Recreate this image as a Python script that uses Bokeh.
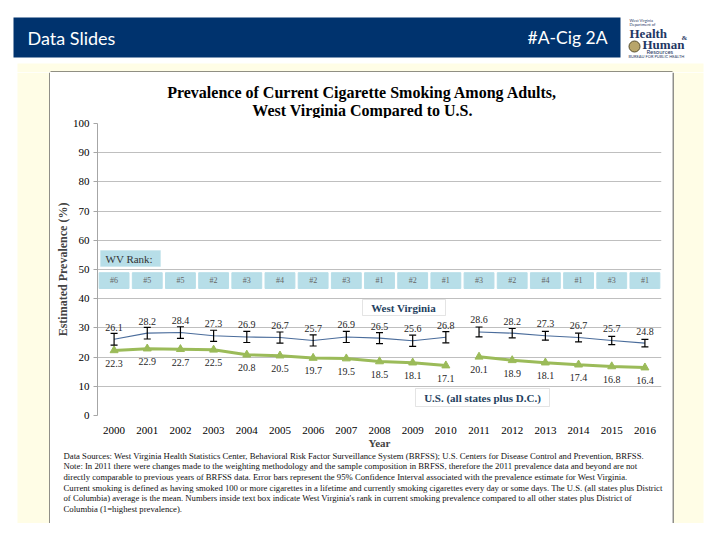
from bokeh.plotting import figure
from bokeh.layouts import column, row
from bokeh.models import FactorRange, Range1d, BoxAnnotation, Label, ColumnDataSource, FixedTicker
from bokeh.core.properties import value
from bokeh.embed import file_html
from bokeh.resources import INLINE

# ---------------- data ----------------
years = [str(y) for y in range(2000, 2017)]
wv_prev = [26.1, 28.2, 28.4, 27.3, 26.9, 26.7, 25.7, 26.9, 26.5, 25.6, 26.8,
           28.6, 28.2, 27.3, 26.7, 25.7, 24.8]
us_prev = [22.3, 22.9, 22.7, 22.5, 20.8, 20.5, 19.7, 19.5, 18.5, 18.1, 17.1,
           20.1, 18.9, 18.1, 17.4, 16.8, 16.4]
wv_ci_half = [2.0, 2.0, 2.0, 1.9, 1.9, 1.9, 1.9, 1.9, 1.9, 1.9, 1.9,
              1.7, 1.6, 1.5, 1.5, 1.4, 1.3]
wv_rank = ["#6", "#5", "#5", "#2", "#3", "#4", "#2", "#3", "#1", "#2", "#1",
           "#3", "#2", "#4", "#1", "#3", "#1"]
y_ticks = [0, 10, 20, 30, 40, 50, 60, 70, 80, 90, 100]

title_lines = ["Prevalence of Current Cigarette Smoking Among Adults,",
               "West Virginia Compared to U.S."]
footnote_lines = [
    "Data Sources: West Virginia Health Statistics Center, Behavioral Risk Factor Surveillance System (BRFSS); U.S. Centers for Disease Control and Prevention, BRFSS.",
    "Note: In 2011 there were changes made to the weighting methodology and the sample composition in BRFSS, therefore the 2011 prevalence data and beyond are not",
    "directly comparable to previous years of BRFSS data. Error bars represent the 95% Confidence Interval associated with the prevalence estimate for West Virginia.",
    "Current smoking is defined as having smoked 100 or more cigarettes in a lifetime and currently smoking cigarettes every day or some days. The U.S. (all states plus District",
    "of Columbia) average is the mean. Numbers inside text box indicate West Virginia's rank in current smoking prevalence compared to all other states plus District of",
    "Columbia (1=highest prevalence).",
]

SERIF = "Liberation Serif"
NAVY = "#00336E"
YELLOW = "#FFFDE6"
LOGO = "#1F3864"


def canvas(W, H):
    c = figure(width=W, height=H, x_range=Range1d(0, W), y_range=Range1d(H, 0),
               min_border=0, min_border_left=0, min_border_right=0,
               min_border_top=0, min_border_bottom=0,
               x_axis_location=None, y_axis_location=None, outline_line_color=None,
               toolbar_location=None, output_backend="svg",
               background_fill_color="white", border_fill_color="white")
    c.grid.visible = False
    return c


def ctext(c, x, y, txt, size, color="black", font=SERIF, style="normal", align="left"):
    c.text(x=[x], y=[y], text=[txt], text_font=value(font), text_font_size=f"{size}px",
           text_color=color, text_font_style=style, text_align=align,
           text_baseline="middle")


# ---------------- header (abs y 0..72) ----------------
header = canvas(720, 72)
header.quad(left=[13], right=[620], top=[17], bottom=[57], fill_color=NAVY, line_color=None)
header.quad(left=[17], right=[703], top=[63], bottom=[72], fill_color=YELLOW, line_color=None)
header.segment(x0=[50], y0=[71.5], x1=[672], y1=[71.5], line_color="#202020", line_width=1)
ctext(header, 27, 37, "Data Slides", 18, color="white", font="Lato")
ctext(header, 607, 37, "#A-Cig 2A", 17.5, color="white", font="Lato", align="right")
ctext(header, 629, 20, "West Virginia", 4, color=LOGO, font="Lato")
ctext(header, 629, 24, "Department of", 4, color=LOGO, font="Lato")
ctext(header, 629, 33, "Health", 13, color=LOGO, style="bold")
ctext(header, 681, 37, "&", 7, color=LOGO, style="bold")
header.scatter(x=[634], y=[46], size=11, marker="circle", fill_color="#B8A56A",
               line_color="#5A5030")
ctext(header, 642, 44, "Human", 13, color=LOGO, style="bold")
ctext(header, 646, 51, "Resources", 6, color=LOGO, font="Lato")
ctext(header, 628, 56, "BUREAU FOR PUBLIC HEALTH", 4, color=LOGO, font="Lato")

# ---------------- side strips (abs y 72..523) ----------------
left = canvas(50, 451)
left.quad(left=[17], right=[49], top=[0], bottom=[451], fill_color=YELLOW, line_color=None)
left.segment(x0=[49.5], y0=[0], x1=[49.5], y1=[451], line_color="#202020", line_width=1)

right = canvas(48, 451)
right.quad(left=[1], right=[31], top=[0], bottom=[451], fill_color=YELLOW, line_color=None)
right.segment(x0=[0.5], y0=[0], x1=[0.5], y1=[451], line_color="#202020", line_width=1)

# ---------------- title (abs x 50..672, y 72..118) ----------------
title = canvas(622, 46)
ctext(title, 312, 20, title_lines[0], 16, style="bold", align="center")
ctext(title, 312, 38, title_lines[1], 16, style="bold", align="center")

# ---------------- main chart (abs x 50..672, y 118..452) ----------------
p = figure(x_range=FactorRange(*years, range_padding=0), y_range=Range1d(0, 100),
           width=622, height=334, output_backend="svg", toolbar_location=None,
           min_border_left=47, min_border_right=11, min_border_top=5,
           min_border_bottom=37, background_fill_color="white",
           border_fill_color="white", outline_line_color=None)

# frame-relative screen helpers (frame left = abs 97, bottom = abs 415)
def sx(x):
    return x - 97

def sy(y):
    return 415 - y

def box(x0, x1, y0, y1, fill, line):
    p.add_layout(BoxAnnotation(left=sx(x0), right=sx(x1), top=sy(y0), bottom=sy(y1),
                               left_units="screen", right_units="screen",
                               top_units="screen", bottom_units="screen",
                               fill_color=fill, fill_alpha=1, line_color=line))

def lab(text, x, y, size, color="black", style="normal", align="left"):
    p.add_layout(Label(x=sx(x), y=sy(y), x_units="screen", y_units="screen", text=text,
                       text_font=SERIF, text_font_size=f"{size}px", text_color=color,
                       text_font_style=style, text_align=align, text_baseline="middle"))

p.yaxis.ticker = FixedTicker(ticks=y_ticks)
p.ygrid.grid_line_color = "#BFBFBF"
p.xgrid.grid_line_color = None
p.yaxis.axis_line_color = "#A6A6A6"
p.yaxis.major_tick_line_color = "#A6A6A6"
p.yaxis.major_tick_in = 0
p.yaxis.major_tick_out = 4
p.yaxis.minor_tick_line_color = None
p.yaxis.major_label_text_font = SERIF
p.yaxis.major_label_text_font_size = "11px"
p.yaxis.major_label_text_color = "black"
p.yaxis.major_label_standoff = 4
p.yaxis.axis_label = "Estimated Prevalence (%)"
p.yaxis.axis_label_text_font = SERIF
p.yaxis.axis_label_text_font_size = "12px"
p.yaxis.axis_label_text_font_style = "bold"
p.yaxis.axis_label_standoff = 0

p.xaxis.axis_line_color = None
p.xaxis.major_tick_line_color = None
p.xaxis.major_tick_out = 0
p.xaxis.major_tick_in = 0
p.xaxis.major_label_text_font = SERIF
p.xaxis.major_label_text_font_size = "11px"
p.xaxis.major_label_text_color = "black"
p.xaxis.major_label_standoff = 11
p.xaxis.axis_label = "Year"
p.xaxis.axis_label_text_font = SERIF
p.xaxis.axis_label_text_font_size = "11px"
p.xaxis.axis_label_text_font_style = "bold"
p.xaxis.axis_label_standoff = 0

# rank boxes
rank_src = ColumnDataSource(dict(x=years, y=[46.2] * len(years), r=wv_rank))
p.rect(x="x", y="y", width=0.9, height=5.4, source=rank_src, fill_color="#B7DEE8",
       line_color="#B7DEE8")
p.text(x="x", y="y", text="r", source=rank_src, text_font=value(SERIF),
       text_font_size="8px", text_color="#666666", text_align="center",
       text_baseline="middle")
box(100, 160, 250, 266, "#B7DEE8", "#B7DEE8")
lab("WV Rank:", 105, 258, 11, color="#333333")

# series (break between 2010 and 2011)
split = years.index("2011")
for a, b in [(0, split), (split, len(years))]:
    p.line(years[a:b], wv_prev[a:b], line_color="#4A6C9B", line_width=1.1)
    p.line(years[a:b], us_prev[a:b], line_color="#9BBB59", line_width=3)

p.scatter(years, us_prev, marker="triangle", size=8, fill_color="#9BBB59",
          line_color="#9BBB59")

lo = [v - h for v, h in zip(wv_prev, wv_ci_half)]
hi = [v + h for v, h in zip(wv_prev, wv_ci_half)]
p.segment(x0=years, y0=lo, x1=years, y1=hi, line_color="black", line_width=1.2)
p.scatter(years, lo, marker="dash", size=7, line_color="black", line_width=1.2)
p.scatter(years, hi, marker="dash", size=7, line_color="black", line_width=1.2)

p.text(x=years, y=wv_prev, text=[f"{v:.1f}" for v in wv_prev], y_offset=-12,
       text_font=value(SERIF), text_font_size="10px", text_color="#262626",
       text_align="center", text_baseline="middle")
p.text(x=years, y=us_prev, text=[f"{v:.1f}" for v in us_prev], y_offset=13,
       text_font=value(SERIF), text_font_size="10px", text_color="#262626",
       text_align="center", text_baseline="middle")

box(362, 445, 299, 315, "white", "#A6A6A6")
lab("West Virginia", 403, 307, 11, color="#243F60", style="bold", align="center")
box(415, 549, 388, 406, "white", "#A6A6A6")
lab("U.S. (all states plus D.C.)", 482, 397, 11, color="#243F60", style="bold",
    align="center")

# ---------------- footnote (abs x 50..672, y 452..523) ----------------
foot = canvas(622, 71)
for i, line in enumerate(footnote_lines):
    ctext(foot, 13, 3 + i * 10.7, line, 8.7, color="#111111")

# ---------------- bottom strip ----------------
bottom = canvas(720, 17)

layout = column(header, row(left, column(title, row(p), foot), right), bottom)

open("out.html", "w").write(file_html(layout, INLINE))
